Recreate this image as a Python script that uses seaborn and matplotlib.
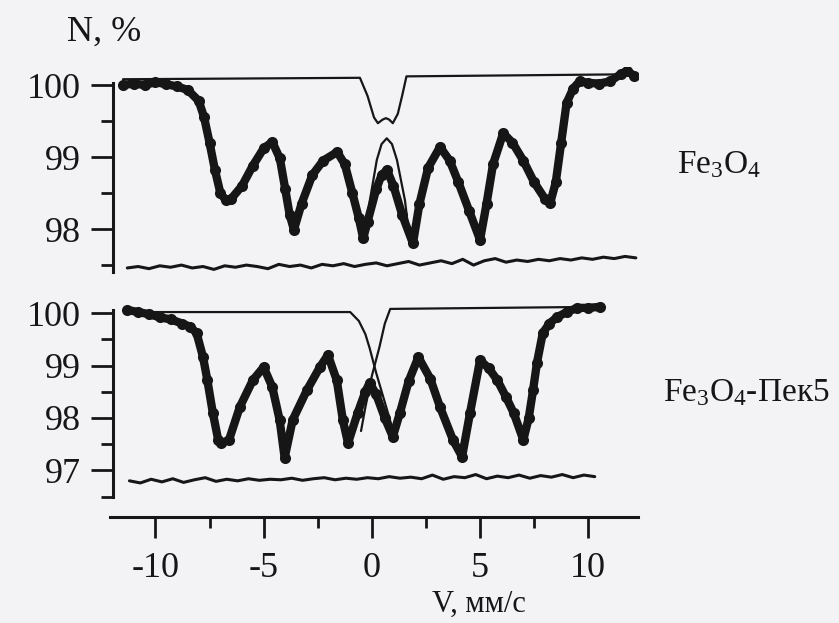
import matplotlib
matplotlib.use("Agg")
import matplotlib.pyplot as plt
import seaborn as sns
import numpy as np

# Fe3O4 spectrum (upper panel)
top_x = [-11.5, -11.0, -10.5, -10.0, -9.5, -9.0, -8.5, -8.0, -7.75, -7.5, -7.25, -7.0, -6.75, -6.5,
         -6.0, -5.5, -5.0, -4.6, -4.25, -4.0, -3.8, -3.6, -3.25, -2.75, -2.25, -1.6, -1.25, -0.9,
         -0.6, -0.4, -0.2, 0.2, 0.45, 0.7, 1.0, 1.4, 1.9, 2.2, 2.6, 3.15, 3.6, 4.0, 4.5, 5.0,
         5.3, 5.6, 6.07, 6.5, 7.0, 7.5, 8.0, 8.24, 8.5, 8.75, 9.0, 9.3, 9.6, 10.0, 10.5, 11.0,
         11.5, 11.8, 12.1]
top_y = [100.0, 100.02, 100.0, 100.04, 100.01, 99.98, 99.93, 99.78, 99.55, 99.2, 98.82, 98.5, 98.4, 98.42,
         98.6, 98.88, 99.12, 99.21, 98.98, 98.55, 98.2, 97.99, 98.35, 98.75, 98.95, 99.07, 98.9, 98.5,
         98.15, 97.87, 98.1, 98.55, 98.75, 98.82, 98.6, 98.2, 97.8, 98.35, 98.85, 99.14, 98.95, 98.65, 98.25, 97.85,
         98.35, 98.9, 99.33, 99.2, 98.95, 98.65, 98.42, 98.36, 98.65, 99.2, 99.75, 99.95, 100.05, 100.03, 100.02, 100.05,
         100.15, 100.2, 100.13]

# thin fitted component lines, upper panel
top_fit_x = [-11.5, -0.55, -0.2, 0.1, 0.28, 0.5, 0.65, 0.8, 0.97, 1.2, 1.4, 1.6, 12.3]
top_fit_y = [100.08, 100.1, 99.85, 99.55, 99.47, 99.52, 99.54, 99.52, 99.47, 99.6, 99.85, 100.12, 100.15]
top_arch_x = [-0.2, -0.09, 0.23, 0.45, 0.69, 0.93, 1.16, 1.53, 1.65]
top_arch_y = [98.1, 98.4, 98.96, 99.18, 99.26, 99.18, 98.96, 98.4, 98.1]

# residual, upper panel
top_res_x = [-11.3, -10.8, -10.3, -9.8, -9.3, -8.8, -8.3, -7.8, -7.3, -6.8, -6.3, -5.8, -5.3, -4.8,
             -4.3, -3.8, -3.3, -2.8, -2.3, -1.8, -1.3, -0.8, -0.3, 0.2, 0.7, 1.2, 1.7, 2.2, 2.7, 3.2,
             3.7, 4.2, 4.7, 5.2, 5.7, 6.2, 6.7, 7.2, 7.7, 8.2, 8.7, 9.2, 9.7, 10.2, 10.7, 11.2, 11.7, 12.2]
top_res_y = [97.46, 97.48, 97.45, 97.49, 97.47, 97.50, 97.46, 97.48, 97.44, 97.49,
             97.47, 97.50, 97.48, 97.45, 97.51, 97.48, 97.50, 97.46, 97.51, 97.49,
             97.52, 97.48, 97.51, 97.53, 97.49, 97.52, 97.55, 97.50, 97.53, 97.56,
             97.52, 97.58, 97.50, 97.56, 97.59, 97.54, 97.57, 97.55, 97.58, 97.56,
             97.59, 97.57, 97.60, 97.58, 97.61, 97.59, 97.62, 97.60]

# Fe3O4-Пек5 spectrum (lower panel)
bot_x = [-11.3, -10.8, -10.3, -9.8, -9.3, -8.75, -8.4, -8.1, -7.8, -7.6, -7.35, -7.1, -6.95, -6.6,
         -6.1, -5.5, -5.0, -4.6, -4.26, -4.03, -3.66, -3.0, -2.4, -2.03, -1.62, -1.34, -1.1,
         -0.65, -0.3, -0.1, 0.2, 0.6, 0.97, 1.3, 1.7, 2.15, 2.7, 3.15, 3.75, 4.17,
         4.54, 5.0, 5.4, 5.8, 6.2, 6.55, 7.0, 7.25, 7.45, 7.63, 7.9, 8.2, 8.55, 9.0, 9.5, 10.0, 10.55]
bot_y = [100.06, 100.02, 99.98, 99.92, 99.88, 99.8, 99.74, 99.62, 99.16, 98.72, 98.1, 97.58, 97.52, 97.58,
         98.21, 98.72, 98.97, 98.59, 97.96, 97.24, 97.96, 98.53, 98.97, 99.2, 98.72, 97.96, 97.52,
         98.1, 98.5, 98.67, 98.45, 98.0, 97.64, 98.1, 98.7, 99.16, 98.75, 98.21, 97.58, 97.26,
         98.1, 99.1, 98.95, 98.72, 98.4, 98.1, 97.58, 98.0, 98.53, 99.05, 99.62, 99.8, 99.92, 100.02, 100.1, 100.1, 100.12]

bot_fit_a_x = [-11.3, -1.0, -0.6, -0.3, -0.1, 0.2, 0.67, 0.95]
bot_fit_a_y = [100.02, 100.02, 99.85, 99.6, 99.33, 98.86, 98.2, 97.8]
bot_fit_b_x = [-0.5, -0.3, 0.0, 0.35, 0.6, 0.85, 10.55]
bot_fit_b_y = [97.75, 98.2, 98.8, 99.35, 99.8, 100.08, 100.12]

bot_res_x = [-11.2, -10.7, -10.2, -9.7, -9.2, -8.7, -8.2, -7.7, -7.2, -6.7, -6.2, -5.7, -5.2, -4.7,
             -4.2, -3.7, -3.2, -2.7, -2.2, -1.7, -1.2, -0.7, -0.2, 0.3, 0.8, 1.3, 1.8, 2.3, 2.8, 3.3,
             3.8, 4.3, 4.8, 5.3, 5.8, 6.3, 6.8, 7.3, 7.8, 8.3, 8.8, 9.3, 9.8, 10.3]
bot_res_y = [96.80, 96.76, 96.83, 96.78, 96.84, 96.77, 96.82, 96.86, 96.79, 96.83,
             96.80, 96.84, 96.81, 96.83, 96.82, 96.85, 96.81, 96.84, 96.86, 96.82,
             96.85, 96.83, 96.86, 96.84, 96.88, 96.85, 96.87, 96.84, 96.91, 96.83,
             96.88, 96.86, 96.92, 96.84, 96.89, 96.86, 96.91, 96.85, 96.90, 96.87,
             96.92, 96.86, 96.91, 96.88]

x_major = [-10, -5, 0, 5, 10]
x_minor = [-7.5, -2.5, 2.5, 7.5]

sns.set_style("ticks")
plt.rcParams['font.family'] = ['Liberation Serif', 'DejaVu Serif']
plt.rcParams['mathtext.fontset'] = 'custom'
plt.rcParams['mathtext.rm'] = 'Liberation Serif'
plt.rcParams['mathtext.it'] = 'Liberation Serif'

bg = '#f3f3f6'
ink = '#161616'
W, H = 839, 623
fig = plt.figure(figsize=(W / 100, H / 100), dpi=100, facecolor=bg)

ax1 = fig.add_axes([110 / W, 1 - 273 / H, 528 / W, 206 / H])
ax2 = fig.add_axes([110 / W, 1 - 517 / H, 528 / W, 217 / H])

def spectrum(ax, x, y):
    sns.lineplot(x=x, y=y, ax=ax, color=ink, lw=6, marker='o', markersize=8,
                 markeredgewidth=0, estimator=None, sort=False)

def thin(ax, x, y, lw=1.6):
    sns.lineplot(x=x, y=y, ax=ax, color=ink, lw=lw, estimator=None, sort=False)

spectrum(ax1, top_x, top_y)
thin(ax1, top_fit_x, top_fit_y)
thin(ax1, top_arch_x, top_arch_y)
thin(ax1, top_res_x, top_res_y, lw=2.2)

spectrum(ax2, bot_x, bot_y)
thin(ax2, bot_fit_a_x, bot_fit_a_y)
thin(ax2, bot_fit_b_x, bot_fit_b_y)
thin(ax2, bot_res_x, bot_res_y, lw=2.2)

for ax in (ax1, ax2):
    ax.set_facecolor(bg)
    ax.set_xlim(-12.1, 12.3)
    ax.set_xlabel('')
    ax.set_ylabel('')
    for s in ('top', 'right'):
        ax.spines[s].set_visible(False)
    ax.spines['left'].set_position(('data', -11.95))
    ax.spines['left'].set_linewidth(2.2)
    ax.spines['left'].set_color(ink)
    ax.tick_params(axis='y', which='major', length=16, width=2, color=ink,
                   labelsize=26, labelcolor=ink, pad=7)
    ax.tick_params(axis='y', which='minor', length=9, width=2, color=ink)

ax1.set_ylim(97.39, 100.25)
ax1.set_yticks([98, 99, 100])
ax1.set_yticks([97.5, 98.5, 99.5], minor=True)
ax1.set_yticklabels(['98', '99', '100'])
ax1.spines['left'].set_bounds(97.4, 100.03)
ax1.spines['bottom'].set_visible(False)
ax1.set_xticks([])

ax2.set_ylim(96.11, 100.25)
ax2.set_yticks([97, 98, 99, 100])
ax2.set_yticks([96.5, 97.5, 98.5, 99.5], minor=True)
ax2.set_yticklabels(['97', '98', '99', '100'])
ax2.spines['left'].set_bounds(96.5, 100.05)
ax2.spines['bottom'].set_linewidth(2.2)
ax2.spines['bottom'].set_color(ink)
ax2.set_xticks(x_major)
ax2.set_xticks(x_minor, minor=True)
ax2.set_xticklabels(['-10', '-5', '0', '5', '10'])
ax2.tick_params(axis='x', which='major', length=15, width=2, color=ink,
                labelsize=26, labelcolor=ink, pad=10)
ax2.tick_params(axis='x', which='minor', length=8, width=2, color=ink)

fig.text(67 / W, 1 - 32 / H, 'N, %', fontsize=26, color=ink, va='center', ha='left')
fig.text(677 / W, 1 - 165 / H, 'Fe$_3$O$_4$', fontsize=24, color=ink, va='center', ha='left')
fig.text(663 / W, 1 - 393 / H, 'Fe$_3$O$_4$-Пек5', fontsize=24, color=ink, va='center', ha='left')
fig.text(479 / W, 1 - 604 / H, 'V, мм/с', fontsize=22, color=ink, va='center', ha='center')

fig.savefig('out.png', dpi=100, facecolor=bg)
